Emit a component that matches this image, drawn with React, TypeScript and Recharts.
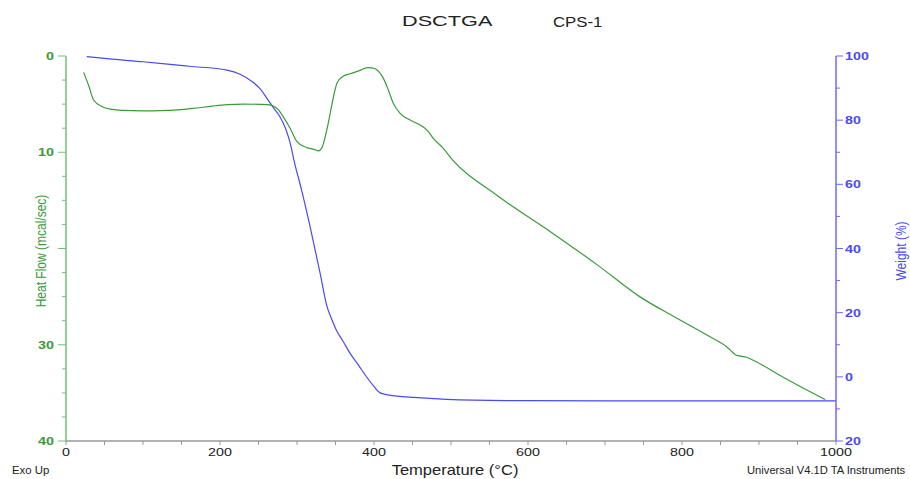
import React from 'react';
import { ComposedChart, Line, XAxis, YAxis } from 'recharts';

// DSC heat flow (mcal/sec) vs temperature (°C)
const heatTemp = [23, 30, 36, 48, 60, 72, 100, 122, 145, 165, 190, 209, 230, 252, 262, 269, 276, 282, 291, 300, 312, 322, 328, 332, 336, 340, 344, 348, 352, 360, 369, 380, 392, 401, 407, 412, 418, 425, 434, 448, 462, 470, 477, 490, 500, 560, 630, 690, 745, 790, 837, 858, 871, 884, 897, 932, 986];
const heatFlow = [1.7, 3.2, 4.6, 5.3, 5.55, 5.65, 5.7, 5.68, 5.6, 5.45, 5.2, 5.05, 5.0, 5.02, 5.05, 5.2, 5.6, 6.3, 7.5, 8.9, 9.5, 9.7, 9.85, 9.6, 8.6, 7.2, 5.6, 4.0, 2.8, 2.1, 1.85, 1.55, 1.2, 1.3, 1.7, 2.3, 3.4, 4.9, 5.95, 6.7, 7.27, 7.8, 8.55, 9.6, 10.6, 14.5, 18.3, 21.7, 25.0, 27.1, 29.2, 30.2, 31.1, 31.3, 31.8, 33.4, 35.7];

// TGA weight (%) vs temperature (°C)
const weightTemp = [27, 60, 100, 122, 160, 209, 226, 240, 252, 261, 270, 278, 285, 291, 297, 306, 317, 330, 339, 345, 351, 360, 369, 380, 390, 400, 408, 420, 430, 451, 494, 572, 700, 850, 1000];
const weightPct = [99.8, 99.0, 98.2, 97.7, 96.8, 95.6, 94.3, 92.3, 89.8, 86.8, 83.7, 81.0, 77.5, 73.0, 66.5, 58.2, 46.8, 32.3, 21.9, 18.0, 14.6, 11.0, 7.3, 3.6, 0.1, -3.0, -5.0, -5.7, -6.0, -6.4, -7.0, -7.4, -7.5, -7.5, -7.5];

// Axis ticks
const xTicks = [0, 50, 100, 150, 200, 250, 300, 350, 400, 450, 500, 550, 600, 650, 700, 750, 800, 850, 900, 950, 1000];
const xLabels = [0, 200, 400, 600, 800, 1000];
const leftTicks = [0, 2.5, 5, 7.5, 10, 12.5, 15, 17.5, 20, 22.5, 25, 27.5, 30, 32.5, 35, 37.5, 40];
const leftLabels = [0, 10, 30, 40];
const leftMajor = [0, 10, 20, 30, 40];
const rightTicks = [-20, -10, 0, 10, 20, 30, 40, 50, 60, 70, 80, 90, 100];
const rightLabels = [-20, 0, 20, 40, 60, 80, 100];

const heatData = heatTemp.map((t, i) => ({ t, heat: heatFlow[i] }));
const weightData = weightTemp.map((t, i) => ({ t, weight: weightPct[i] }));

const FONT = '"Liberation Sans", Arial, sans-serif';
const GREEN = '#3a9a3a';
const GREEN_AXIS = '#72c072';
const BLUE = '#4a4af2';
const BLUE_AXIS = '#6a6aff';
const GRAY = '#999999';

const XTick = (props: any) => {
  const { x, y, payload } = props;
  const v = payload.value;
  const label = xLabels.includes(v);
  return (
    <g>
      <line x1={x} x2={x} y1={y} y2={y + 4} stroke={GRAY} strokeWidth={1} />
      {label && (
        <text transform={`translate(${x},${y + 15}) scale(1.3,1)`} textAnchor="middle" fontSize={11} fontFamily={FONT} fill="#222">
          {v}
        </text>
      )}
    </g>
  );
};

const LeftTick = (props: any) => {
  const { x, y, payload } = props;
  const v = payload.value;
  const major = leftMajor.includes(v);
  const label = leftLabels.includes(v);
  return (
    <g>
      <line x1={x - (major ? 8 : 4)} x2={x} y1={y} y2={y} stroke={GREEN_AXIS} strokeWidth={1} />
      {label && (
        <text transform={`translate(${x - 12},${y + 4}) scale(1.3,1)`} textAnchor="end" fontSize={11} fontWeight="bold" fontFamily={FONT} fill={GREEN}>
          {v}
        </text>
      )}
    </g>
  );
};

const RightTick = (props: any) => {
  const { x, y, payload } = props;
  const v = payload.value;
  const label = rightLabels.includes(v);
  return (
    <g>
      <line x1={x} x2={x + (label ? 7 : 4)} y1={y} y2={y} stroke={BLUE_AXIS} strokeWidth={1} />
      {label && (
        <text transform={`translate(${x + 9},${y + 4}) scale(1.3,1)`} textAnchor="start" fontSize={11} fontWeight="bold" fontFamily={FONT} fill={BLUE}>
          {Math.abs(v)}
        </text>
      )}
    </g>
  );
};

export default function App() {
  return (
    <div style={{ position: 'absolute', left: 0, top: 0, width: 910, height: 479, background: '#fff' }}>
      <ComposedChart width={910} height={479} margin={{ top: 56, right: 0, bottom: 0, left: 0 }}>
        <XAxis
          dataKey="t"
          type="number"
          domain={[0, 1000]}
          ticks={xTicks}
          interval={0}
          height={38}
          tickSize={0}
          tickMargin={0}
          tickLine={false}
          tick={<XTick />}
          axisLine={{ stroke: GRAY, strokeWidth: 1.5 }}
          allowDataOverflow
        />
        <XAxis
          xAxisId="top"
          orientation="top"
          type="number"
          domain={[0, 1000]}
          height={0}
          tick={false}
          tickLine={false}
          axisLine={{ stroke: GRAY, strokeWidth: 1.5 }}
        />
        <YAxis
          yAxisId="left"
          orientation="left"
          type="number"
          domain={[0, 40]}
          reversed
          ticks={leftTicks}
          interval={0}
          width={66}
          tickSize={0}
          tickMargin={0}
          tickLine={false}
          tick={<LeftTick />}
          axisLine={{ stroke: GREEN_AXIS, strokeWidth: 1.5 }}
          allowDataOverflow
        />
        <YAxis
          yAxisId="right"
          orientation="right"
          type="number"
          domain={[-20, 100]}
          ticks={rightTicks}
          interval={0}
          width={74}
          tickSize={0}
          tickMargin={0}
          tickLine={false}
          tick={<RightTick />}
          axisLine={{ stroke: BLUE_AXIS, strokeWidth: 1.5 }}
          allowDataOverflow
        />
        <Line
          data={weightData}
          dataKey="weight"
          yAxisId="right"
          type="monotone"
          stroke={BLUE}
          strokeWidth={1.2}
          dot={false}
          activeDot={false}
          isAnimationActive={false}
        />
        <Line
          data={heatData}
          dataKey="heat"
          yAxisId="left"
          type="monotone"
          stroke={GREEN}
          strokeWidth={1.2}
          dot={false}
          activeDot={false}
          isAnimationActive={false}
        />
      </ComposedChart>
      <svg width={910} height={479} style={{ position: 'absolute', left: 0, top: 0, pointerEvents: 'none' }}>
        <text transform="translate(402,26) scale(1.4,1)" fontSize={15.5} fontFamily={FONT} fill="#222">DSCTGA</text>
        <text transform="translate(553,27) scale(1.2,1)" fontSize={14} fontFamily={FONT} fill="#222">CPS-1</text>
        <text transform="translate(12,474) scale(1.14,1)" fontSize={10} fontFamily={FONT} fill="#222">Exo Up</text>
        <text transform="translate(455,475) scale(1.18,1)" textAnchor="middle" fontSize={14} fontFamily={FONT} fill="#222">Temperature  (°C)</text>
        <text transform="translate(747,474) scale(1.12,1)" fontSize={10} fontFamily={FONT} fill="#222">Universal  V4.1D TA Instruments</text>
        <text transform="translate(46,251) rotate(-90) scale(1,1.25)" textAnchor="middle" fontSize={12} fontFamily={FONT} fill={GREEN}>Heat Flow (mcal/sec)</text>
        <text transform="translate(906,251) rotate(-90) scale(1,1.25)" textAnchor="middle" fontSize={12} fontFamily={FONT} fill={BLUE}>Weight (%)</text>
      </svg>
    </div>
  );
}
